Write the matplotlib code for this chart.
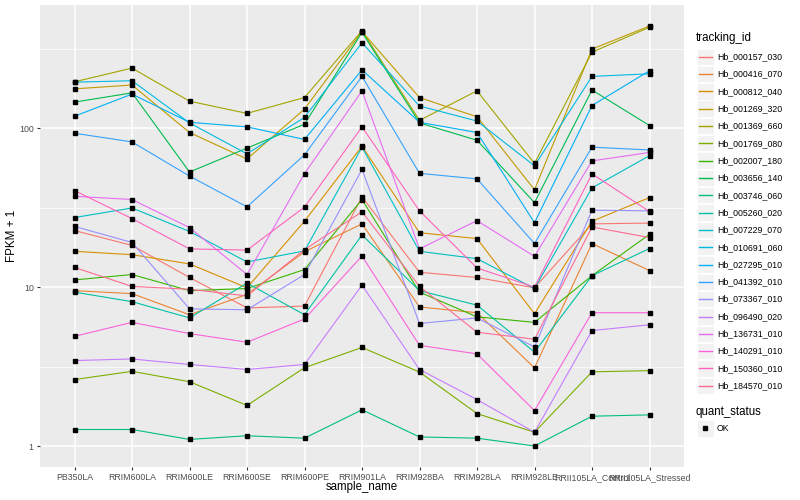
import numpy as np
import matplotlib
matplotlib.use("Agg")
import matplotlib.pyplot as plt
from matplotlib.lines import Line2D
from matplotlib.patches import Rectangle
from matplotlib.ticker import FixedLocator, NullFormatter

plt.rcParams['font.family'] = ['Liberation Sans', 'DejaVu Sans']

# samples on the x axis
samples = ["PB350LA", "RRIM600LA", "RRIM600LE", "RRIM600SE", "RRIM600PE", "RRIM901LA",
           "RRIM928BA", "RRIM928LA", "RRIM928LE", "RRII105LA_Control", "RRII105LA_Stressed"]

tracking_ids = ["Hb_000157_030", "Hb_000416_070", "Hb_000812_040", "Hb_001269_320",
                "Hb_001369_660", "Hb_001769_080", "Hb_002007_180", "Hb_003656_140",
                "Hb_003746_060", "Hb_005260_020", "Hb_007229_070", "Hb_010691_060",
                "Hb_027295_010", "Hb_041392_010", "Hb_073367_010", "Hb_096490_020",
                "Hb_136731_010", "Hb_140291_010", "Hb_150360_010", "Hb_184570_010"]

# ggplot default hue palette, 20 levels
colors = ["#F8766D", "#EA8331", "#D89000", "#C09B00", "#A3A500", "#7CAE00", "#39B600",
          "#00BB4E", "#00BF7D", "#00C1A3", "#00BFC4", "#00BAE0", "#00B0F6", "#35A2FF",
          "#9590FF", "#C77CFF", "#E76BF3", "#FA62DB", "#FF62BC", "#FF6C91"]

# FPKM + 1 per gene, one value per sample
hb_000157_030 = [22.7, 18.3, 11.5, 7.4, 7.6, 37.0, 12.4, 11.5, 9.9, 25.0, 25.3]
hb_000416_070 = [9.5, 9.1, 6.7, 9.0, 16.7, 25.0, 7.5, 6.9, 3.1, 18.8, 12.7]
hb_000812_040 = [16.8, 16.0, 14.0, 9.9, 26.0, 77.0, 22.0, 20.2, 6.8, 26.0, 36.6]
hb_001269_320 = [177, 187, 94, 64, 132, 406, 156, 118, 41, 315, 440]
hb_001369_660 = [196, 239, 148, 124, 156, 411, 112, 172, 60, 301, 432]
hb_001769_080 = [2.62, 2.95, 2.54, 1.80, 3.11, 4.17, 2.92, 1.60, 1.22, 2.93, 2.98]
hb_002007_180 = [11.1, 12.0, 9.5, 9.8, 12.9, 35.6, 9.3, 6.5, 6.0, 11.8, 21.5]
hb_003656_140 = [146, 167, 53, 75, 106, 402, 108, 84, 34, 174, 104]
hb_003746_060 = [1.27, 1.27, 1.10, 1.16, 1.12, 1.69, 1.14, 1.12, 1.00, 1.54, 1.57]
hb_005260_020 = [9.3, 8.1, 6.4, 10.6, 6.7, 21.3, 9.5, 7.7, 3.9, 11.8, 17.5]
hb_007229_070 = [27.4, 31.5, 22.4, 14.4, 16.9, 76.0, 16.8, 15.1, 9.8, 42.1, 67.2]
hb_010691_060 = [195, 199, 108, 69, 117, 345, 138, 111, 58, 212, 220]
hb_027295_010 = [119, 164, 109, 102, 85, 233, 109, 94, 25.4, 139, 230]
hb_041392_010 = [93, 82, 50, 32, 68, 212, 52, 48, 18.8, 76, 73]
hb_073367_010 = [24.1, 19.1, 7.3, 7.2, 12.0, 55.0, 5.9, 6.4, 4.2, 30.5, 30.2]
hb_096490_020 = [3.45, 3.53, 3.26, 3.03, 3.26, 10.3, 3.03, 1.96, 1.22, 5.33, 5.79]
hb_136731_010 = [37.3, 35.6, 23.7, 12.0, 51.8, 172, 17.4, 26.2, 15.6, 62.3, 70.4]
hb_140291_010 = [4.9, 6.0, 5.1, 4.5, 6.3, 15.7, 4.3, 3.8, 1.67, 6.9, 6.9]
hb_150360_010 = [40.5, 27.0, 17.4, 17.1, 31.9, 102, 30.2, 13.2, 10.0, 51.6, 29.9]
hb_184570_010 = [13.3, 10.1, 9.7, 8.8, 17.2, 29.8, 10.1, 5.2, 4.7, 23.9, 20.5]

series = [hb_000157_030, hb_000416_070, hb_000812_040, hb_001269_320, hb_001369_660,
          hb_001769_080, hb_002007_180, hb_003656_140, hb_003746_060, hb_005260_020,
          hb_007229_070, hb_010691_060, hb_027295_010, hb_041392_010, hb_073367_010,
          hb_096490_020, hb_136731_010, hb_140291_010, hb_150360_010, hb_184570_010]

W, H = 800, 500


def fx(x):
    return x / W


def fy(y):
    return 1 - y / H


fig = plt.figure(figsize=(8, 5), dpi=100)
fig.patch.set_facecolor("white")
ax = fig.add_axes([fx(40), fy(467), fx(684) - fx(40), fy(5) - fy(467)])
ax.set_facecolor("#EBEBEB")
for s in ax.spines.values():
    s.set_visible(False)

xs = np.arange(len(samples))
for vals, col in zip(series, colors):
    ax.plot(xs, vals, color=col, lw=0.8, zorder=3)
for vals in series:
    ax.plot(xs, vals, ls="none", marker="s", ms=2.4, color="black", zorder=4)

# scales with ggplot-like expansion
ax.set_yscale("log")
allv = np.concatenate([np.array(v, float) for v in series])
lo, hi = np.log10(allv.min()), np.log10(allv.max())
pad = 0.05 * (hi - lo)
ax.set_ylim(10 ** (lo - pad), 10 ** (hi + pad))
ax.set_xlim(-0.6, len(samples) - 1 + 0.6)

ax.yaxis.set_major_locator(FixedLocator([1, 10, 100]))
ax.yaxis.set_minor_locator(FixedLocator([10 ** 0.5, 10 ** 1.5, 10 ** 2.5]))
ax.yaxis.set_minor_formatter(NullFormatter())
ax.set_yticklabels(["1", "10", "100"])
ax.set_xticks(xs)
ax.set_xticklabels(samples)

ax.grid(True, which="major", color="white", lw=1.1, zorder=0)
ax.grid(True, which="minor", axis="y", color="white", lw=0.5, zorder=0)
ax.set_axisbelow(True)
ax.tick_params(which="major", length=2.5, width=0.8, color="#333333",
               labelcolor="#4D4D4D", labelsize=6.3, pad=2)
ax.tick_params(which="minor", length=0)

fig.text(fx(362), fy(487), "sample_name", ha="center", va="center", fontsize=8.3)
fig.text(fx(12), fy(236), "FPKM + 1", ha="center", va="center", rotation=90, fontsize=8.3)

# legend: tracking_id
fig.text(fx(696), fy(38), "tracking_id", ha="left", va="center", fontsize=8.3)
y0, step = 56.7, 17.32
for i, (name, col) in enumerate(zip(tracking_ids, colors)):
    yc = y0 + i * step
    fig.add_artist(Rectangle((fx(696.5), fy(yc + 8.2)), 17 / W, 16.4 / H,
                             transform=fig.transFigure, facecolor="#F2F2F2",
                             edgecolor="white", lw=0.6))
    fig.add_artist(Line2D([fx(698.5), fx(711.5)], [fy(yc), fy(yc)],
                          transform=fig.transFigure, color=col, lw=1.0))
    fig.text(fx(717), fy(yc), name, ha="left", va="center", fontsize=6.3)

# legend: quant_status
fig.text(fx(696), fy(411.5), "quant_status", ha="left", va="center", fontsize=8.3)
fig.add_artist(Rectangle((fx(696.5), fy(428.3 + 8.2)), 17 / W, 16.4 / H,
                         transform=fig.transFigure, facecolor="#F2F2F2",
                         edgecolor="white", lw=0.6))
fig.add_artist(Line2D([fx(705)], [fy(428.3)], transform=fig.transFigure,
                      ls="none", marker="s", ms=2.4, color="black"))
fig.text(fx(717), fy(428.3), "OK", ha="left", va="center", fontsize=6.3)

fig.savefig("out.png", dpi=100)
